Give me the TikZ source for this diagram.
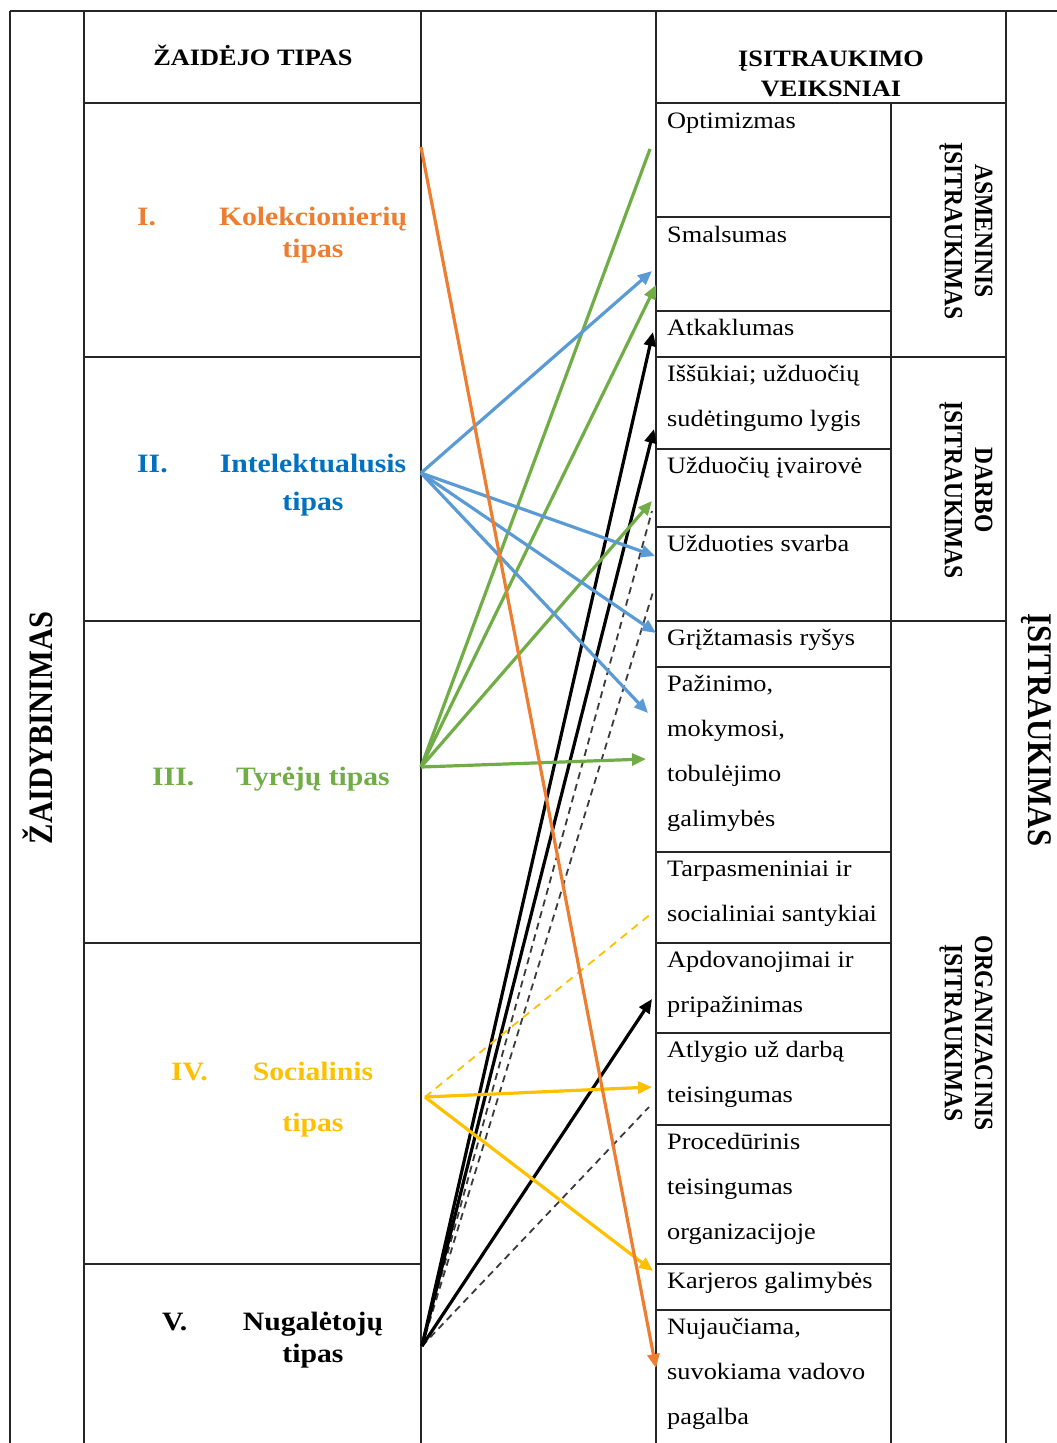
\documentclass[tikz,border=0pt]{standalone}
\usepackage{graphicx}
\usepackage{fontspec}
\setmainfont[FakeStretch=1.12]{Liberation Serif}
\newfontfamily\uprfont{Liberation Serif}
\usetikzlibrary{arrows.meta}
\definecolor{korange}{HTML}{ED7D31}
\definecolor{kbluetext}{HTML}{0070C0}
\definecolor{kblue}{HTML}{5B9BD5}
\definecolor{kgreen}{HTML}{70AD47}
\definecolor{kyellow}{HTML}{FFC000}
\definecolor{kdash}{HTML}{3A3A3A}

\begin{document}
\begin{tikzpicture}[x=1pt,y=-1pt,
  grid/.style={line width=1.7pt, black!85},
  head/.style={inner sep=0pt, font=\bfseries\fontsize{23.5}{30}\selectfont},
  factor/.style={anchor=base west, inner sep=0pt, font=\fontsize{23.5}{45}\selectfont},
  plab/.style={inner sep=0pt, font=\bfseries\fontsize{26.5}{32}\selectfont},
  rotlab/.style={inner sep=0pt, rotate=-90, anchor=base},
  link/.style={line width=3.2pt, -{Triangle[length=14pt,width=12pt]}},
  plain/.style={line width=3.2pt},
  dlink/.style={line width=1.8pt, kdash, dash pattern=on 7pt off 5pt}
]
\useasboundingbox (0,0) rectangle (1057,1443);

% table frame
\draw[grid] (10,11) -- (1057,11);
\foreach \x in {10,84,421,656,1006} \draw[grid] (\x,11) -- (\x,1443);
\draw[grid] (891,103) -- (891,1443);
\draw[grid] (84,103) -- (421,103);
\draw[grid] (656,103) -- (1006,103);
\foreach \y in {357,621,943,1264} \draw[grid] (84,\y) -- (421,\y);
\foreach \y in {217,311,449,527,667,852,943,1033,1125,1264,1310} \draw[grid] (656,\y) -- (891,\y);
\foreach \y in {357,621} \draw[grid] (656,\y) -- (1006,\y);

% headers
\node[head, anchor=base] (h-left) at (253,65) {ŽAIDĖJO TIPAS};
\node[head, anchor=base] (h-right) at (831,66) {\parbox[t]{300pt}{\centering ĮSITRAUKIMO\\VEIKSNIAI}};

% side titles
\node[inner sep=0pt, rotate=90, anchor=base] (side-l) at (52,728)
  {\uprfont\bfseries\fontsize{30.5}{30}\selectfont\scalebox{1}[1.12]{ŽAIDYBINIMAS}};
\node[rotlab] (side-r) at (1028,730)
  {\uprfont\bfseries\fontsize{30.8}{30}\selectfont\scalebox{1}[1.12]{ĮSITRAUKIMAS}};

% engagement groups
\node[rotlab] (g-asm) at (975,231)
  {\uprfont\bfseries\fontsize{23.5}{27}\selectfont\scalebox{1}[1.12]{\parbox[t]{200pt}{\centering ASMENINIS\\ĮSITRAUKIMAS}}};
\node[rotlab] (g-dar) at (975,490)
  {\uprfont\bfseries\fontsize{23.5}{27}\selectfont\scalebox{1}[1.12]{\parbox[t]{200pt}{\centering DARBO\\ĮSITRAUKIMAS}}};
\node[rotlab] (g-org) at (975,1033)
  {\uprfont\bfseries\fontsize{23.5}{27}\selectfont\scalebox{1}[1.12]{\parbox[t]{220pt}{\centering ORGANIZACINIS\\ĮSITRAUKIMAS}}};

% player types
\node[plab, text=korange, anchor=base west] (n1) at (137,225) {I.};
\node[plab, text=korange, anchor=base] (p1) at (313,225) {\parbox[t]{200pt}{\centering Kolekcionierių\\tipas}};
\node[plab, text=kbluetext, anchor=base west] (n2) at (137,472) {II.};
\node[plab, text=kbluetext, anchor=base] (p2) at (313,472) {\parbox[t]{200pt}{\centering Intelektualusis\\[6pt]tipas}};
\node[plab, text=kgreen, anchor=base west] (n3) at (152,785) {III.};
\node[plab, text=kgreen, anchor=base] (p3) at (313,785) {Tyrėjų tipas};
\node[plab, text=kyellow, anchor=base west] (n4) at (171,1080) {IV.};
\node[plab, text=kyellow, anchor=base] (p4) at (313,1080) {\parbox[t]{200pt}{\centering Socialinis\\[19pt]tipas}};
\node[plab, anchor=base west] (n5) at (162,1330) {V.};
\node[plab, anchor=base] (p5) at (313,1330) {\parbox[t]{200pt}{\centering Nugalėtojų\\tipas}};

% engagement factors
\node[factor] (f-opt) at (667,128) {Optimizmas};
\node[factor] (f-sma) at (667,242) {Smalsumas};
\node[factor] (f-atk) at (667,335) {Atkaklumas};
\node[factor] (f-iss) at (667,381) {\parbox[t]{225pt}{Iššūkiai; užduočių\\sudėtingumo lygis}};
\node[factor] (f-iva) at (667,473) {Užduočių įvairovė};
\node[factor] (f-sva) at (667,551) {Užduoties svarba};
\node[factor] (f-gri) at (667,645) {Grįžtamasis ryšys};
\node[factor] (f-paz) at (667,691) {\parbox[t]{225pt}{Pažinimo,\\mokymosi,\\tobulėjimo\\galimybės}};
\node[factor] (f-tar) at (667,876) {\parbox[t]{225pt}{Tarpasmeniniai ir\\socialiniai santykiai}};
\node[factor] (f-apd) at (667,967) {\parbox[t]{225pt}{Apdovanojimai ir\\pripažinimas}};
\node[factor] (f-atl) at (667,1057) {\parbox[t]{225pt}{Atlygio už darbą\\teisingumas}};
\node[factor] (f-pro) at (667,1149) {\parbox[t]{225pt}{Procedūrinis\\teisingumas\\organizacijoje}};
\node[factor] (f-kar) at (667,1288) {Karjeros galimybės};
\node[factor] (f-nuj) at (667,1334) {\parbox[t]{225pt}{Nujaučiama,\\suvokiama vadovo\\pagalba}};

% link start points
\coordinate (s1) at (421,147);
\coordinate (s2) at (421,473);
\coordinate (s3) at (421,767);
\coordinate (s4) at (425,1097);
\coordinate (s5) at (422,1346);

% link end points
\coordinate (e-nuj) at (656,1368);
\coordinate (e-sma-b) at (652,271);
\coordinate (e-sva-b) at (655,556);
\coordinate (e-gri) at (656,633);
\coordinate (e-paz-b) at (648,713);
\coordinate (e-opt) at (650,149);
\coordinate (e-sma-g) at (656,285);
\coordinate (e-iva-g) at (652,501);
\coordinate (e-paz-g) at (646,759);
\coordinate (e-tar) at (652,913);
\coordinate (e-atl) at (652,1087);
\coordinate (e-kar) at (653,1271);
\coordinate (e-atk) at (653,332);
\coordinate (e-iss) at (654,429);
\coordinate (e-iva-d) at (652,511);
\coordinate (e-sva-d) at (653,592);
\coordinate (e-apd) at (652,999);
\coordinate (e-pro-d) at (649,1107);

% winners
\draw[dlink] (s5) -- (e-iva-d);
\draw[dlink] (s5) -- (e-sva-d);
\draw[dlink] (s5) -- (e-pro-d);
\draw[link, black] (s5) -- (e-atk);
\draw[link, black] (s5) -- (e-iss);
\draw[link, black] (s5) -- (e-apd);

% socialisers
\draw[line width=1.8pt, kyellow, dash pattern=on 8pt off 6pt] (s4) -- (e-tar);
\draw[link, kyellow] (s4) -- (e-atl);
\draw[link, kyellow] (s4) -- (e-kar);

% explorers
\draw[plain, kgreen] (s3) -- (e-opt);
\draw[link, kgreen] (s3) -- (e-sma-g);
\draw[link, kgreen] (s3) -- (e-iva-g);
\draw[link, kgreen] (s3) -- (e-paz-g);

% intellectuals
\draw[link, kblue] (s2) -- (e-sma-b);
\draw[link, kblue] (s2) -- (e-sva-b);
\draw[link, kblue] (s2) -- (e-gri);
\draw[link, kblue] (s2) -- (e-paz-b);

% collectors
\draw[link, korange] (s1) -- (e-nuj);
\end{tikzpicture}
\end{document}
